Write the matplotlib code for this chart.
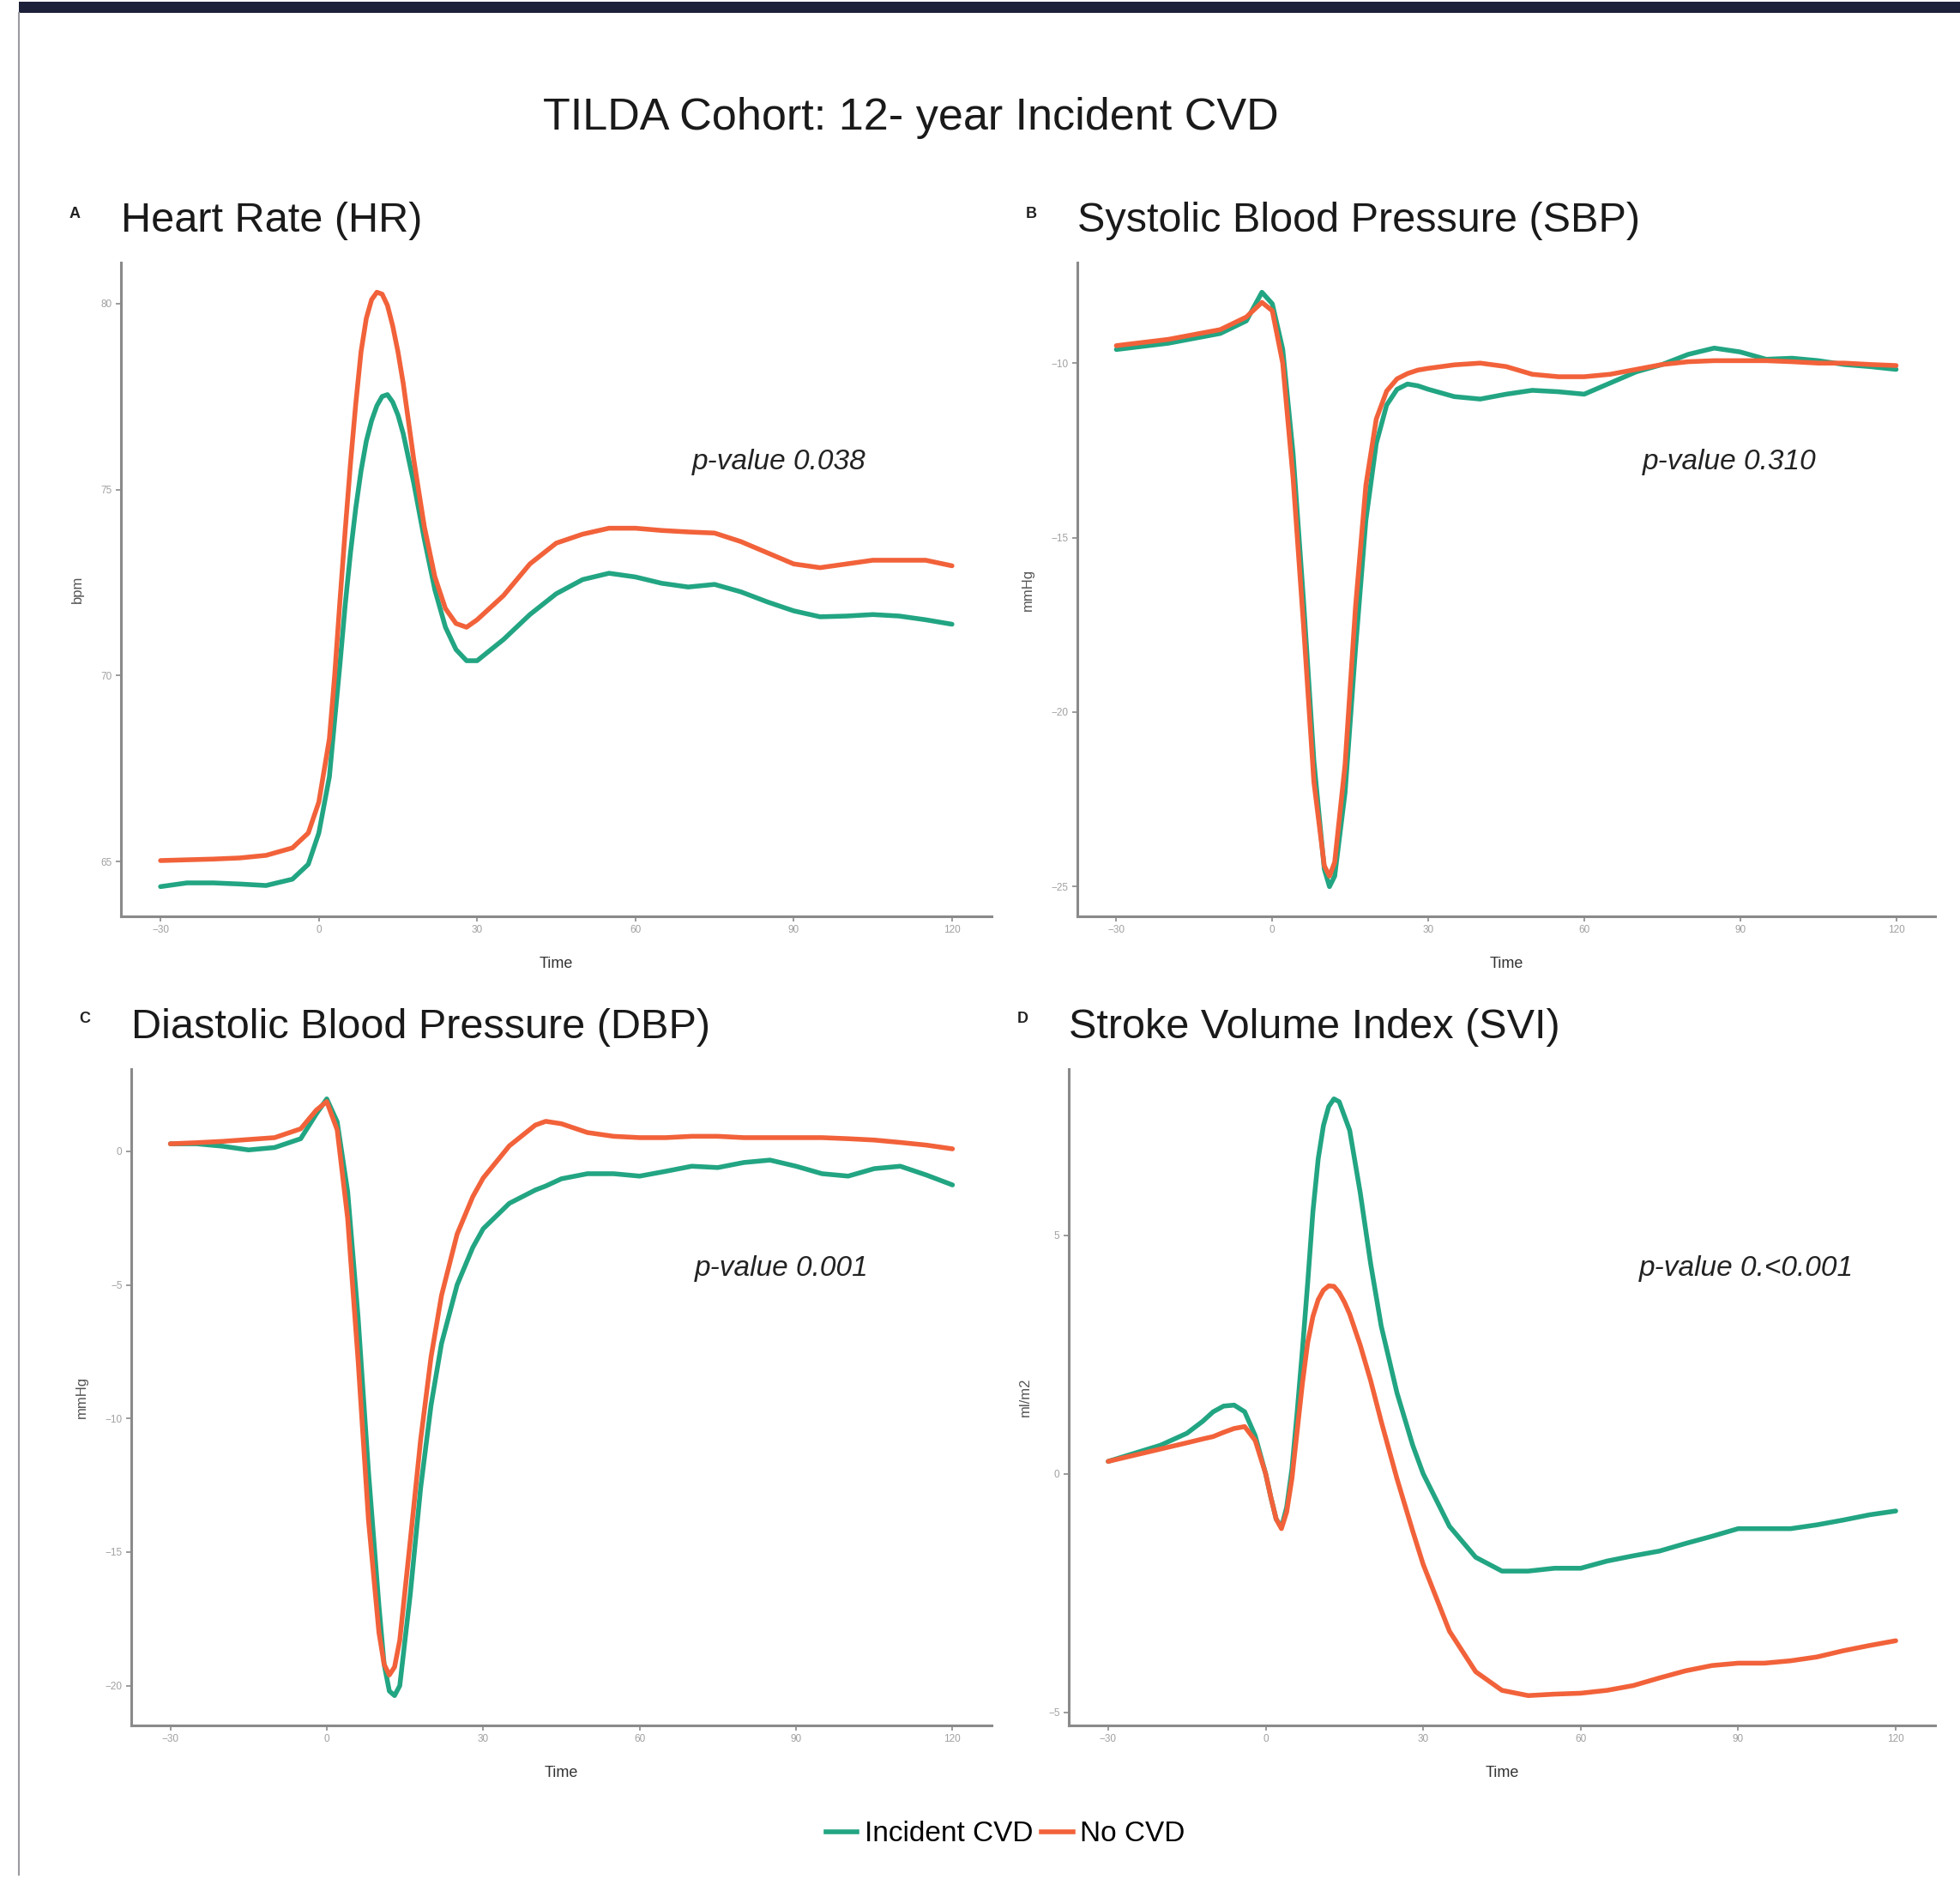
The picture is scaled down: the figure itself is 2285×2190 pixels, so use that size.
import numpy as np
import matplotlib
matplotlib.use("Agg")
import matplotlib.pyplot as plt
from matplotlib.lines import Line2D
from matplotlib.patches import Rectangle

plt.rcParams['font.family'] = ['Liberation Sans', 'DejaVu Sans']

GREEN = "#22a582"
ORANGE = "#f2623a"

# ---------------- Data ----------------
# Panel A: Heart Rate (bpm)
hr_t = [-30, -25, -20, -15, -10, -5, -2, 0, 2, 3, 4, 5, 6, 7, 8, 9, 10, 11, 12, 13, 14, 15, 16, 18, 20, 22,
        24, 26, 28, 30, 35, 40, 45, 50, 55, 60, 65, 70, 75, 80, 85, 90, 95, 100, 105, 110, 115, 120]
hr_nocvd = [65.03, 65.05, 65.07, 65.1, 65.17, 65.37, 65.77, 66.6, 68.3, 70.0, 72.0, 73.9, 75.7, 77.3, 78.7,
            79.6, 80.1, 80.3, 80.25, 79.95, 79.4, 78.7, 77.85, 75.8, 74.0, 72.65,
            71.8, 71.4, 71.3, 71.5, 72.15, 73.0, 73.56, 73.8, 73.96, 73.96, 73.9, 73.86, 73.83, 73.6,
            73.3, 73.0, 72.9, 73.0, 73.1, 73.1, 73.1, 72.95]
hr_cvd = [64.33, 64.43, 64.43, 64.4, 64.36, 64.53, 64.93, 65.77, 67.28, 68.8, 70.3, 71.9, 73.3, 74.5, 75.5,
          76.3, 76.85, 77.25, 77.5, 77.55, 77.35, 77.0, 76.5, 75.17, 73.66, 72.3,
          71.3, 70.7, 70.4, 70.4, 70.97, 71.64, 72.2, 72.58, 72.75, 72.65, 72.48, 72.38, 72.45, 72.25,
          71.98, 71.74, 71.58, 71.6, 71.64, 71.6, 71.5, 71.38]

# Panel B: Systolic Blood Pressure (mmHg)
sbp_t = [-30, -20, -10, -5, -2, 0, 2, 4, 6, 8, 10, 11, 12, 14, 16, 18, 20, 22, 24, 26, 28, 30,
         35, 40, 45, 50, 55, 60, 65, 70, 75, 80, 85, 90, 95, 100, 105, 110, 115, 120]
sbp_nocvd = [-9.5, -9.32, -9.04, -8.68, -8.26, -8.5, -10.0, -13.3, -17.5, -22.0, -24.4, -24.7, -24.3,
             -21.5, -17.0, -13.5, -11.6, -10.8, -10.45, -10.3, -10.2, -10.15,
             -10.05, -10.0, -10.1, -10.32, -10.39, -10.39, -10.32, -10.18, -10.04, -9.96, -9.93, -9.93,
             -9.93, -9.96, -10.0, -10.0, -10.04, -10.07]
sbp_cvd = [-9.61, -9.43, -9.15, -8.79, -7.97, -8.3, -9.6, -12.6, -16.8, -21.4, -24.5, -25.0, -24.7,
           -22.3, -18.2, -14.5, -12.3, -11.2, -10.75, -10.6, -10.65, -10.75,
           -10.96, -11.03, -10.89, -10.78, -10.82, -10.89, -10.57, -10.25, -10.04, -9.75, -9.57, -9.68,
           -9.89, -9.86, -9.93, -10.04, -10.1, -10.18]

# Panel C: Diastolic Blood Pressure (mmHg)
dbp_t = [-30, -25, -20, -15, -10, -5, -2, 0, 2, 4, 6, 8, 10, 11, 12, 13, 14, 16, 18, 20, 22, 25, 28, 30,
         35, 40, 42, 45, 50, 55, 60, 65, 70, 75, 80, 85, 90, 95, 100, 105, 110, 115, 120]
dbp_nocvd = [0.28, 0.32, 0.37, 0.44, 0.51, 0.84, 1.54, 1.86, 0.8, -2.5, -7.8, -13.8, -18.0, -19.2,
             -19.6, -19.3, -18.3, -14.6, -10.8, -7.7, -5.4, -3.1, -1.7, -1.0,
             0.2, 0.98, 1.12, 1.03, 0.7, 0.56, 0.51, 0.51, 0.56, 0.56, 0.51, 0.51, 0.51, 0.51, 0.47,
             0.42, 0.33, 0.23, 0.09]
dbp_cvd = [0.28, 0.28, 0.19, 0.05, 0.14, 0.47, 1.4, 1.96, 1.1, -1.5, -6.2, -12.0, -17.0, -19.2,
           -20.2, -20.37, -20.0, -16.6, -12.6, -9.5, -7.2, -5.0, -3.6, -2.9,
           -1.95, -1.45, -1.3, -1.03, -0.84, -0.84, -0.93, -0.75, -0.56, -0.61, -0.42, -0.33, -0.56,
           -0.84, -0.93, -0.65, -0.56, -0.89, -1.26]

# Panel D: Stroke Volume Index (ml/m2)
svi_t = [-30, -20, -15, -12, -10, -8, -6, -4, -2, 0, 1, 2, 3, 4, 5, 6, 7, 8, 9, 10, 11, 12, 13, 14, 15,
         16, 18, 20, 22, 25, 28, 30, 35, 40, 45, 50, 55, 60, 65, 70, 75, 80, 85, 90, 95, 100, 105, 110,
         115, 120]
svi_nocvd = [0.26, 0.52, 0.65, 0.73, 0.78, 0.87, 0.95, 0.99, 0.7, 0.0, -0.5, -0.95, -1.15, -0.8, -0.1,
             0.9, 1.9, 2.75, 3.3, 3.65, 3.85, 3.94, 3.93, 3.8, 3.6,
             3.35, 2.7, 1.95, 1.1, -0.1, -1.2, -1.9, -3.3, -4.15, -4.54, -4.65, -4.62, -4.6, -4.54,
             -4.44, -4.28, -4.13, -4.02, -3.97, -3.97, -3.92, -3.84, -3.71, -3.6, -3.5]
svi_cvd = [0.26, 0.6, 0.85, 1.1, 1.3, 1.42, 1.44, 1.3, 0.8, 0.0, -0.5, -0.95, -1.12, -0.7, 0.1,
           1.3, 2.6, 4.0, 5.5, 6.6, 7.3, 7.7, 7.86, 7.8, 7.5,
           7.2, 5.9, 4.4, 3.1, 1.7, 0.6, 0.0, -1.1, -1.75, -2.04, -2.04, -1.98, -1.98, -1.83,
           -1.72, -1.62, -1.46, -1.31, -1.15, -1.15, -1.15, -1.07, -0.97, -0.86, -0.78]

x_ticks = [-30, 0, 30, 60, 90, 120]
hr_yticks = [65, 70, 75, 80]
sbp_yticks = [-10, -15, -20, -25]
dbp_yticks = [0, -5, -10, -15, -20]
svi_yticks = [5, 0, -5]

panels = [
    dict(letter="A", title="Heart Rate (HR)", t=hr_t, cvd=hr_cvd, nocvd=hr_nocvd, yticks=hr_yticks,
         ylabel="bpm", p="p-value 0.038", px=(141, 1156, 306, 1068), ppos=(908, 538)),
    dict(letter="B", title="Systolic Blood Pressure (SBP)", t=sbp_t, cvd=sbp_cvd, nocvd=sbp_nocvd,
         yticks=sbp_yticks, ylabel="mmHg", p="p-value 0.310", px=(1256, 2256, 306, 1068), ppos=(2016, 538)),
    dict(letter="C", title="Diastolic Blood Pressure (DBP)", t=dbp_t, cvd=dbp_cvd, nocvd=dbp_nocvd,
         yticks=dbp_yticks, ylabel="mmHg", p="p-value 0.001", px=(153, 1156, 1246, 2011), ppos=(911, 1478)),
    dict(letter="D", title="Stroke Volume Index (SVI)", t=svi_t, cvd=svi_cvd, nocvd=svi_nocvd,
         yticks=svi_yticks, ylabel="ml/m2", p="p-value 0.<0.001", px=(1246, 2256, 1246, 2011), ppos=(2036, 1478)),
]

W, H = 2285, 2190
fig = plt.figure(figsize=(W / 100, H / 100), dpi=100)
fig.patch.set_facecolor("white")

# frame decorations
fig.patches.append(Rectangle((22 / W, 1 - 15 / H), 1 - 22 / W, 13 / H, transform=fig.transFigure,
                             facecolor="#1c2038", edgecolor="none"))
fig.add_artist(Line2D([22 / W, 22 / W], [1 - 15 / H, 1 - 2185 / H], transform=fig.transFigure,
                      color="#9a9aa0", lw=1.5))

fig.text(0.4645, 1 - 138 / H, "TILDA Cohort: 12- year Incident CVD", ha="center", va="center",
         fontsize=37.5, color="#1a1a1a")

AX_COLOR = "#8a8a8a"
for pnl in panels:
    l, r, t_, b = pnl["px"]
    ax = fig.add_axes([l / W, 1 - b / H, (r - l) / W, (b - t_) / H])
    ax.plot(pnl["t"], pnl["cvd"], color=GREEN, lw=4, solid_capstyle="round", solid_joinstyle="round",
            zorder=3)
    ax.plot(pnl["t"], pnl["nocvd"], color=ORANGE, lw=4, solid_capstyle="round", solid_joinstyle="round",
            zorder=4)
    allv = np.concatenate([pnl["cvd"], pnl["nocvd"]])
    lo, hi = allv.min(), allv.max()
    pad = 0.05 * (hi - lo)
    ax.set_ylim(lo - pad, hi + pad)
    ax.set_xlim(-30 - 7.5, 120 + 7.5)
    ax.set_xticks(x_ticks)
    ax.set_yticks(pnl["yticks"])
    for s in ["top", "right"]:
        ax.spines[s].set_visible(False)
    for s in ["left", "bottom"]:
        ax.spines[s].set_color(AX_COLOR)
        ax.spines[s].set_linewidth(2.2)
    ax.tick_params(axis="both", colors=AX_COLOR, length=4, width=1.2, labelsize=8.5,
                   labelcolor="#a0a0a0")
    ax.set_xlabel("Time", fontsize=13, color="#333333", labelpad=18)
    ax.set_ylabel(pnl["ylabel"], fontsize=12, color="#555555", labelpad=14)
    ax.set_facecolor("white")
    # panel letter and title
    fig.text((l - 54) / W, 1 - 250 / H if pnl["letter"] in "AB" else 1 - 1188 / H, pnl["letter"],
             fontsize=13, fontweight="bold", ha="center", va="center", color="#222222")
    fig.text(l / W, 1 - 258 / H if pnl["letter"] in "AB" else 1 - 1198 / H, pnl["title"],
             fontsize=35, ha="left", va="center", color="#1a1a1a")
    fig.text(pnl["ppos"][0] / W, 1 - pnl["ppos"][1] / H, pnl["p"], fontsize=24, style="italic",
             ha="center", va="center", color="#222222")

handles = [Line2D([], [], color=GREEN, lw=4), Line2D([], [], color=ORANGE, lw=4)]
fig.legend(handles, ["Incident CVD", "No CVD"], loc="center", bbox_to_anchor=(0.513, 1 - 2138 / H),
           ncol=2, frameon=False, fontsize=24, handlelength=1.1, handletextpad=0.25, columnspacing=0.3)

fig.savefig("out.png", dpi=100, facecolor="white")
